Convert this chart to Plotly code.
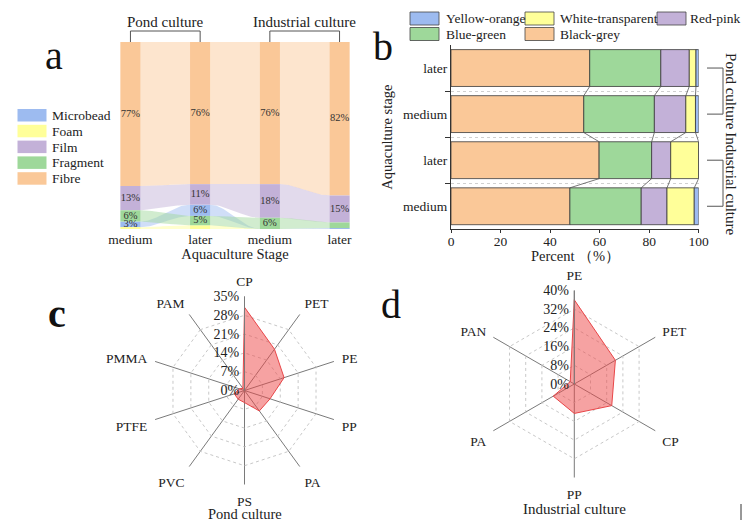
import numpy as np
import plotly.graph_objects as go

W, H = 745, 522
SERIF = "Liberation Serif, Times New Roman, serif"


def px(x):
    return x / W


def py(y):
    return 1 - y / H


# ---------------- Panel a data ----------------
stages_a = ["medium", "later", "medium", "later"]
shape_types = ["Microbead", "Foam", "Film", "Fragment", "Fibre"]
microbead = [3, 6, 0, 0.5]
foam = [1, 2, 0, 0]
film = [13, 11, 18, 14.5]
fragment = [6, 5, 6, 3]
fibre = [77, 76, 76, 82]
labels_microbead = ["3%", "6%", "", ""]
labels_foam = ["", "", "", ""]
labels_film = ["13%", "11%", "18%", "15%"]
labels_fragment = ["6%", "5%", "6%", ""]
labels_fibre = ["77%", "76%", "76%", "82%"]
shape_colors = ["#9DBBF0", "#FFFF99", "#C3B1D8", "#9ED89A", "#FAC898"]

# ---------------- Panel b data ----------------
stages_b = ["medium", "later", "medium", "later"]  # bottom -> top
colour_types = ["Black-grey", "Blue-green", "Red-pink", "White-transparent", "Yellow-orange"]
black_grey = [48.0, 59.8, 53.6, 56.0]
blue_green = [28.8, 21.2, 28.5, 28.7]
red_pink = [10.4, 7.7, 12.7, 11.5]
white_transparent = [11.0, 11.3, 3.9, 2.7]
yellow_orange = [1.8, 0.0, 1.3, 1.1]
colour_colors = ["#FAC898", "#9ED89A", "#C3B1D8", "#FFFF99", "#9DBBF0"]
legend_b_order = ["Yellow-orange", "White-transparent", "Red-pink", "Blue-green", "Black-grey"]

# ---------------- Panel c / d data ----------------
polymers_c = ["CP", "PET", "PE", "PP", "PA", "PS", "PVC", "PTFE", "PMMA", "PAM"]
pond_pct = [31, 19, 15.5, 10, 9.4, 4.5, 4, 4, 2, 1]
radial_ticks_c = [0, 7, 14, 21, 28, 35]
polymers_d = ["PE", "PET", "CP", "PP", "PA", "PAN"]
industrial_pct = [36, 20.3, 18.5, 12.6, 10.4, 2]
radial_ticks_d = [0, 8, 16, 24, 32, 40]


def rgba(hexc, a):
    h = hexc.lstrip("#")
    r, g, b = int(h[0:2], 16), int(h[2:4], 16), int(h[4:6], 16)
    return f"rgba({r},{g},{b},{a})"


fig = go.Figure()

# ---------- Panel a: alluvial-like stacked bars ----------
vals_a = [microbead, foam, film, fragment, fibre]
labs_a = [labels_microbead, labels_foam, labels_film, labels_fragment, labels_fibre]
ncol = len(stages_a)
bases = np.zeros((len(shape_types), ncol))
for c in range(ncol):
    col_vals = [v[c] for v in vals_a]
    order = sorted(range(len(shape_types)), key=lambda k: col_vals[k])
    acc = 0.0
    for k in order:
        bases[k, c] = acc
        acc += col_vals[k]
vals_arr = np.array(vals_a, dtype=float)
tops = bases + vals_arr

bar_w = 0.29
t = np.linspace(0, 1, 40)
s = t * t * (3 - 2 * t)
for k in range(len(shape_types)):
    for i in range(ncol - 1):
        xa, xb = i + bar_w / 2, i + 1 - bar_w / 2
        xx = xa + (xb - xa) * t
        top = tops[k, i] + (tops[k, i + 1] - tops[k, i]) * s
        bot = bases[k, i] + (bases[k, i + 1] - bases[k, i]) * s
        fig.add_trace(go.Scatter(
            x=np.concatenate([xx, xx[::-1]]), y=np.concatenate([top, bot[::-1]]),
            fill="toself", fillcolor=rgba(shape_colors[k], 0.48), mode="lines",
            line=dict(width=0), hoverinfo="skip", xaxis="x", yaxis="y"))

for k, name in enumerate(shape_types):
    fig.add_trace(go.Bar(
        x=list(range(ncol)), y=vals_a[k], base=bases[k], width=bar_w,
        marker=dict(color=shape_colors[k], line=dict(width=0)),
        name=name, xaxis="x", yaxis="y"))
    fig.add_trace(go.Scatter(
        x=list(range(ncol)), y=bases[k] + vals_arr[k] / 2, text=labs_a[k],
        mode="text", textfont=dict(family=SERIF, size=10.5, color="#333"),
        hoverinfo="skip", xaxis="x", yaxis="y"))

# ---------- Panel b: horizontal stacked bars ----------
vals_b = [black_grey, blue_green, red_pink, white_transparent, yellow_orange]
vb = np.array(vals_b, dtype=float)
cum_b = np.cumsum(vb, axis=0)
base_b = cum_b - vb
yb = list(range(len(stages_b)))
for k, name in enumerate(colour_types):
    fig.add_trace(go.Bar(
        y=yb, x=vals_b[k], base=base_b[k], orientation="h", width=0.8,
        marker=dict(color=colour_colors[k], line=dict(color="#3a3a3a", width=0.8)),
        name=name, xaxis="x2", yaxis="y2"))

cx, cy = [], []
for j in range(len(stages_b) - 1):
    for k in range(len(colour_types) - 1):
        cx += [cum_b[k, j + 1], cum_b[k, j], None]
        cy += [j + 1 - 0.4, j + 0.4, None]
fig.add_trace(go.Scatter(x=cx, y=cy, mode="lines", line=dict(color="#555", width=0.8),
                         hoverinfo="skip", xaxis="x2", yaxis="y2"))

# ---------- Panel c / d radar ----------
fig.add_trace(go.Scatterpolar(
    r=pond_pct + pond_pct[:1], theta=polymers_c + polymers_c[:1], fill="toself",
    fillcolor="rgba(238,70,70,0.5)", line=dict(color="rgb(232,70,72)", width=1),
    mode="lines", subplot="polar"))
fig.add_trace(go.Scatterpolar(
    r=industrial_pct + industrial_pct[:1], theta=polymers_d + polymers_d[:1], fill="toself",
    fillcolor="rgba(238,70,70,0.5)", line=dict(color="rgb(232,70,72)", width=1),
    mode="lines", subplot="polar2"))


def polar_cfg(dom_x, dom_y, ticks):
    return dict(
        domain=dict(x=dom_x, y=dom_y),
        bgcolor="rgba(0,0,0,0)",
        gridshape="linear",
        angularaxis=dict(direction="clockwise", rotation=90, showline=False,
                         gridcolor="#7a7a7a", gridwidth=1,
                         tickfont=dict(family=SERIF, size=13.5, color="#222"),
                         ticks="outside", ticklen=5, tickcolor="rgba(0,0,0,0)"),
        radialaxis=dict(range=[0, ticks[-1]], tickvals=ticks,
                        ticktext=[f"{v}%" for v in ticks],
                        angle=90, side="counterclockwise", tickangle=90,
                        showline=True, linecolor="#7a7a7a", gridcolor="#c8c8c8",
                        griddash="dot", ticks="",
                        tickfont=dict(family=SERIF, size=14, color="#222")),
    )


layout = dict(
    template="none",
    width=W, height=H, margin=dict(l=0, r=0, t=0, b=0, autoexpand=False),
    paper_bgcolor="white", plot_bgcolor="white", showlegend=False,
    barmode="overlay", font=dict(family=SERIF, color="#222"),
    xaxis=dict(domain=[px(120), px(350)], range=[-0.15, 3.15], anchor="y", automargin=False,
               tickvals=list(range(ncol)), ticktext=stages_a, showgrid=False,
               zeroline=False, showline=False, ticks="",
               tickfont=dict(family=SERIF, size=13.5, color="#222"),
               title=dict(text="Aquaculture Stage", font=dict(family=SERIF, size=14.5), standoff=3)),
    yaxis=dict(domain=[py(229), py(42)], range=[0, 100], visible=False, anchor="x", automargin=False),
    xaxis2=dict(domain=[px(451), px(698.7)], range=[0, 100], anchor="y2", automargin=False,
                tickvals=[0, 20, 40, 60, 80, 100], showgrid=False, zeroline=False,
                showline=True, linecolor="#333", ticks="outside", ticklen=3, tickcolor="#333",
                ticklabelstandoff=-4,
                tickfont=dict(family=SERIF, size=13.5, color="#222")),
    yaxis2=dict(domain=[py(229.3), py(45)], range=[-0.5, 3.5], anchor="x2", automargin=False,
                tickvals=yb, ticktext=stages_b, showgrid=False, zeroline=False,
                showline=True, linecolor="#333", ticks="",
                tickfont=dict(family=SERIF, size=13.5, color="#222"),
                minor=dict(tickvals=[0.5, 1.5, 2.5], ticks="outside", ticklen=5,
                           tickcolor="#333", showgrid=True, gridcolor="#d0d0d0", griddash="dot"),
                title=dict(text="Aquaculture stage", font=dict(family=SERIF, size=14.5), standoff=6)),
    polar=polar_cfg([px(150.5), px(338.5)], [py(484.5), py(296.5)], radial_ticks_c),
    polar2=polar_cfg([px(480.8), px(667.8)], [py(477.5), py(290.5)], radial_ticks_d),
)
fig.update_layout(**layout)

ann = []
shapes = []
# panel letters
for txt, x, y, bold in [("a", 54, 55, False), ("b", 383, 47, False), ("c", 57, 313, True), ("d", 391, 304, False)]:
    ann.append(dict(text=f"<b>{txt}</b>" if bold else txt, x=px(x), y=py(y), xref="paper", yref="paper",
                    showarrow=False, font=dict(family=SERIF, size=40, color="#111"),
                    xanchor="center", yanchor="middle"))

# panel b x-axis title
ann.append(dict(text="Percent （%）", x=px(575), y=py(256), xref="paper", yref="paper", showarrow=False,
                font=dict(family=SERIF, size=14.5, color="#222"), xanchor="center", yanchor="middle"))

# panel a brackets
for (c0, c1, label) in [(0, 1, "Pond culture"), (2, 3, "Industrial culture")]:
    shapes.append(dict(type="path", xref="x", yref="paper",
                       path=f"M {c0} {py(42)} L {c0} {py(31)} L {c1} {py(31)} L {c1} {py(42)}",
                       line=dict(color="#555", width=1)))
    ann.append(dict(text=label, x=(c0 + c1) / 2, y=py(22), xref="x", yref="paper", showarrow=False,
                    font=dict(family=SERIF, size=15, color="#222"), xanchor="center", yanchor="middle"))

# panel a legend
for i, (name, colr) in enumerate(zip(shape_types, shape_colors)):
    y0 = 109 + 15.8 * i
    shapes.append(dict(type="rect", xref="paper", yref="paper", x0=px(17.5), x1=px(46.5),
                       y0=py(y0 + 12.5), y1=py(y0), fillcolor=colr, line=dict(width=0)))
    ann.append(dict(text=name, x=px(50), y=py(y0 + 6.5), xref="paper", yref="paper", showarrow=False,
                    font=dict(family=SERIF, size=13.5, color="#222"), xanchor="left", yanchor="middle"))

# panel b legend
leg_pos = [(410, 444, 12), (525, 558, 12), (657, 688, 12), (410, 444, 27.5), (525, 558, 27.5)]
for name, (bx, tx, by) in zip(legend_b_order, leg_pos):
    colr = colour_colors[colour_types.index(name)]
    shapes.append(dict(type="rect", xref="paper", yref="paper", x0=px(bx), x1=px(bx + 29),
                       y0=py(by + 13), y1=py(by), fillcolor=colr, line=dict(color="#444", width=0.8)))
    ann.append(dict(text=name, x=px(tx), y=py(by + 6.5), xref="paper", yref="paper", showarrow=False,
                    font=dict(family=SERIF, size=13.5, color="#222"), xanchor="left", yanchor="middle"))

# panel b right brackets
for (r0, r1, label) in [(3, 2, "Pond culture"), (1, 0, "Industrial culture")]:
    shapes.append(dict(type="path", xref="paper", yref="y2",
                       path=f"M {px(707)} {r0} L {px(723)} {r0} L {px(723)} {r1} L {px(707)} {r1}",
                       line=dict(color="#555", width=1)))
    ann.append(dict(text=label, x=px(731), y=(r0 + r1) / 2, xref="paper", yref="y2", showarrow=False,
                    textangle=90, font=dict(family=SERIF, size=15, color="#222"),
                    xanchor="center", yanchor="middle"))

# radar titles
ann.append(dict(text="Pond culture", x=px(245), y=py(513.5), xref="paper", yref="paper", showarrow=False,
                font=dict(family=SERIF, size=14.5, color="#222"), xanchor="center", yanchor="middle"))
ann.append(dict(text="Industrial culture", x=px(574), y=py(509), xref="paper", yref="paper", showarrow=False,
                font=dict(family=SERIF, size=15, color="#222"), xanchor="center", yanchor="middle"))

shapes.append(dict(type="line", xref="paper", yref="paper", x0=px(741), x1=px(741), y0=py(520), y1=py(504),
                   line=dict(color="#333", width=1)))

fig.update_layout(annotations=ann, shapes=shapes)
fig.write_html("out.html", config={"displayModeBar": False},
               post_script="document.body.style.margin='0';document.body.style.overflow='hidden';")
